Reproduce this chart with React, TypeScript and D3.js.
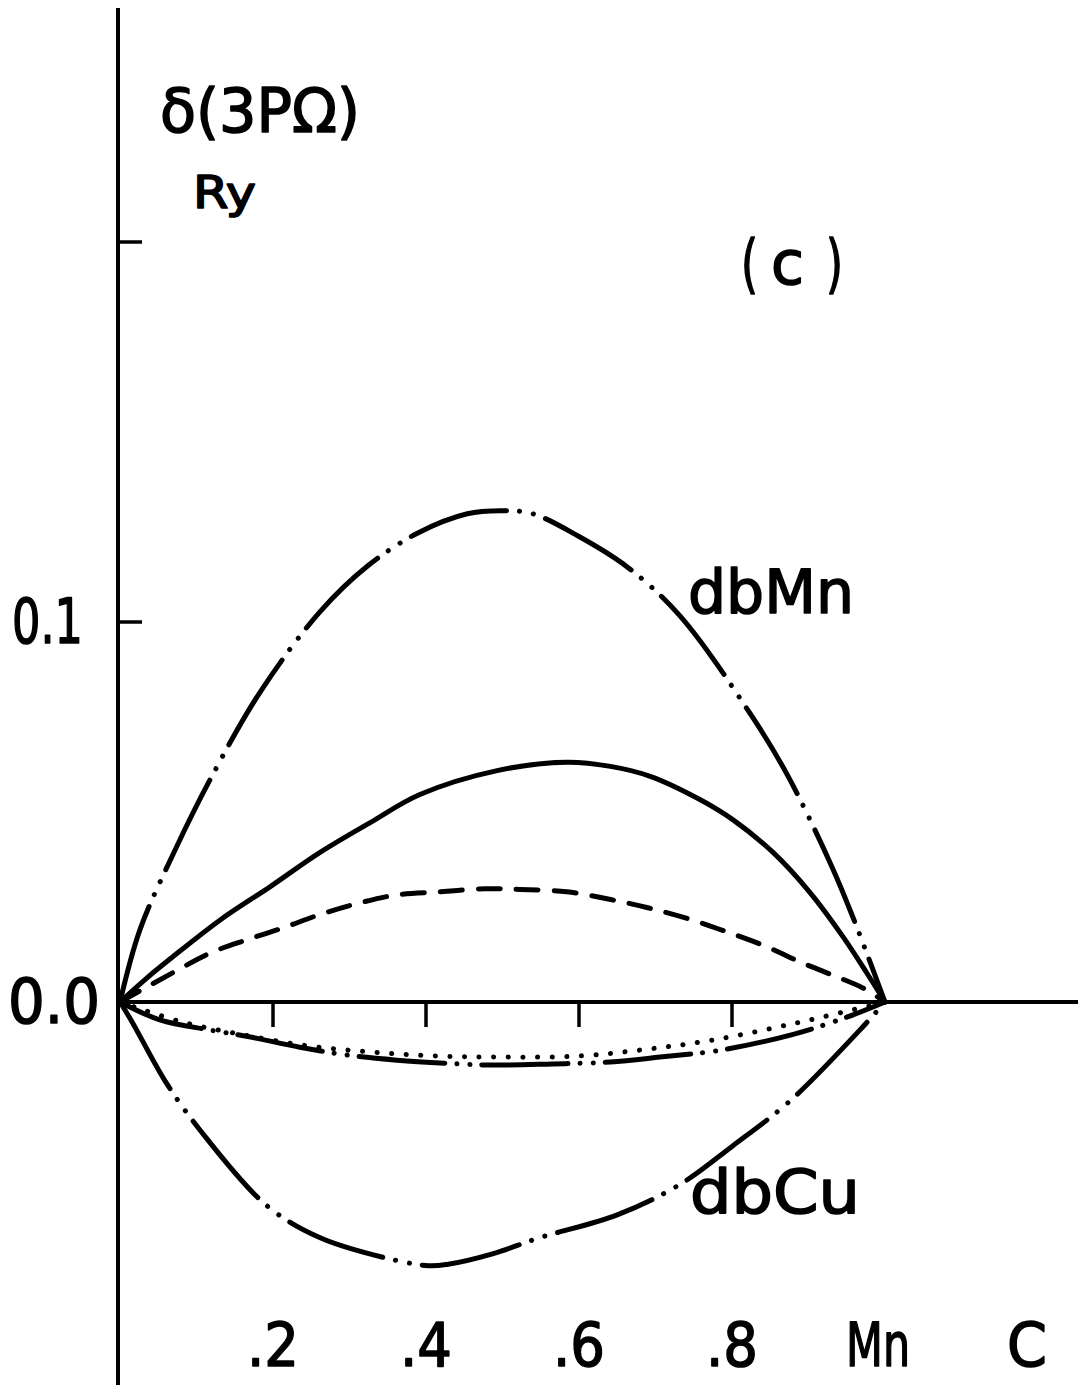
import React from "react";
import * as d3 from "d3";

// Composition c (Mn fraction) and δ(3PΩ) in Ry for each curve
const dbMnC = [0, 0.026, 0.072, 0.118, 0.183, 0.261, 0.324, 0.39, 0.454, 0.497, 0.539, 0.6, 0.663, 0.732, 0.826, 0.872, 0.931, 0.961, 1];
const dbMnV = [0, 0.019, 0.04, 0.0586, 0.0815, 0.1026, 0.1148, 0.1235, 0.1285, 0.1293, 0.1285, 0.1225, 0.1145, 0.1016, 0.0752, 0.0599, 0.0354, 0.0208, 0];

const solidC = [0, 0.035, 0.069, 0.131, 0.196, 0.261, 0.327, 0.392, 0.493, 0.584, 0.641, 0.693, 0.758, 0.801, 0.854, 0.902, 0.945, 0.976, 1];
const solidV = [0, 0.0063, 0.0119, 0.0216, 0.0303, 0.0393, 0.0472, 0.0546, 0.0609, 0.0631, 0.062, 0.0594, 0.0533, 0.048, 0.0393, 0.0288, 0.0172, 0.0077, 0];

const dashedC = [0, 0.069, 0.118, 0.166, 0.213, 0.261, 0.31, 0.362, 0.418, 0.477, 0.523, 0.584, 0.643, 0.69, 0.743, 0.797, 0.846, 0.886, 0.931, 0.971, 1];
const dashedV = [0, 0.0077, 0.0129, 0.0164, 0.0195, 0.023, 0.0259, 0.0282, 0.029, 0.0298, 0.0296, 0.029, 0.0269, 0.0248, 0.0219, 0.0182, 0.0145, 0.0108, 0.0071, 0.0037, 0];

const dottedC = [0, 0.08, 0.163, 0.248, 0.331, 0.412, 0.497, 0.601, 0.69, 0.775, 0.889, 1];
const dottedV = [0, -0.0052, -0.0087, -0.0116, -0.0132, -0.0142, -0.0145, -0.0142, -0.0124, -0.01, -0.0053, 0];

const dashDotC = [0, 0.052, 0.118, 0.165, 0.235, 0.298, 0.362, 0.425, 0.486, 0.565, 0.641, 0.706, 0.784, 0.88, 0.95, 1];
const dashDotV = [0, -0.0047, -0.0074, -0.009, -0.0119, -0.014, -0.0153, -0.0161, -0.0166, -0.0163, -0.0158, -0.0145, -0.0127, -0.0085, -0.004, 0];

const dbCuC = [0, 0.016, 0.059, 0.105, 0.192, 0.261, 0.33, 0.403, 0.429, 0.488, 0.549, 0.65, 0.732, 0.8, 0.876, 0.967, 1];
const dbCuV = [0, -0.0053, -0.0208, -0.0338, -0.0536, -0.062, -0.0665, -0.0694, -0.069, -0.0662, -0.062, -0.056, -0.048, -0.038, -0.026, -0.0074, 0];

const xTickValues = [0.2, 0.4, 0.6, 0.8];
const xTickLabels = [".2", ".4", ".6", ".8"];
const yTickValues = [0.1, 0.2];

const W = 1078;
const H = 1385;
const FONT = "'DejaVu Sans', 'Noto Sans', sans-serif";

const x = d3.scaleLinear().domain([0, 1]).range([120, 885]);
const y = d3.scaleLinear().domain([0, 0.2]).range([1002, 242]);

const line = d3
  .line<[number, number]>()
  .x((d) => x(d[0]))
  .y((d) => y(d[1]))
  .curve(d3.curveCatmullRom.alpha(0.5));

const zip = (cs: number[], vs: number[]) => cs.map((c, i) => [c, vs[i]] as [number, number]);

const curves = [
  { key: "dbMn", d: zip(dbMnC, dbMnV), dash: "100 13 0.1 14 0.1 13" },
  { key: "solid", d: zip(solidC, solidV), dash: undefined },
  { key: "dashed", d: zip(dashedC, dashedV), dash: "22 16" },
  { key: "dotted", d: zip(dottedC, dottedV), dash: "0.1 14.5" },
  { key: "dashDot", d: zip(dashDotC, dashDotV), dash: "86 12 0.1 13 0.1 12" },
  { key: "dbCu", d: zip(dbCuC, dbCuV), dash: "100 13 0.1 14 0.1 13" },
];

export default function App() {
  const axisX = 118;
  const y0 = y(0);
  return (
    <svg
      width={W}
      height={H}
      viewBox={`0 0 ${W} ${H}`}
      style={{ position: "absolute", left: 0, top: 0, background: "#fff" }}
    >
      <rect width={W} height={H} fill="#fff" />
      {/* axes */}
      <line x1={axisX} x2={axisX} y1={8} y2={H} stroke="#000" strokeWidth={4} />
      <line x1={axisX} x2={W} y1={y0} y2={y0} stroke="#000" strokeWidth={4} />
      {yTickValues.map((v) => (
        <line key={v} x1={axisX} x2={axisX + 24} y1={y(v)} y2={y(v)} stroke="#000" strokeWidth={3.5} />
      ))}
      {xTickValues.map((v) => (
        <line key={v} x1={x(v)} x2={x(v)} y1={y0} y2={y0 + 25} stroke="#000" strokeWidth={3.5} />
      ))}

      {/* curves */}
      {curves.map((c) => (
        <path
          key={c.key}
          d={line(c.d) || ""}
          fill="none"
          stroke="#000"
          strokeWidth={5}
          strokeLinecap="round"
          strokeLinejoin="round"
          strokeDasharray={c.dash}
        />
      ))}

      {/* text */}
      <g fontFamily={FONT} fill="#000" stroke="#000" strokeWidth={1.6} strokeLinejoin="round">
        <text x={12} y={643} fontSize={62} textLength={71} lengthAdjust="spacingAndGlyphs">0.1</text>
        <text x={8} y={1023} fontSize={62} textLength={92} lengthAdjust="spacingAndGlyphs">0.0</text>
        <text x={160} y={132} fontSize={60} textLength={200} lengthAdjust="spacingAndGlyphs">δ(3PΩ)</text>
        <text x={193} y={208} fontSize={44} textLength={63} lengthAdjust="spacingAndGlyphs">Ry</text>
        <text x={741} y={286} fontSize={64} textLength={17} lengthAdjust="spacingAndGlyphs">(</text>
        <text x={771} y={284} fontSize={60} textLength={33} lengthAdjust="spacingAndGlyphs">c</text>
        <text x={826} y={286} fontSize={64} textLength={17} lengthAdjust="spacingAndGlyphs">)</text>
        <text x={688} y={613} fontSize={60} textLength={166} lengthAdjust="spacingAndGlyphs">dbMn</text>
        <text x={690} y={1213} fontSize={60} textLength={170} lengthAdjust="spacingAndGlyphs">dbCu</text>
        {xTickValues.map((v, i) => (
          <text key={v} x={x(v)} y={1366} fontSize={60} textAnchor="middle" textLength={52} lengthAdjust="spacingAndGlyphs">
            {xTickLabels[i]}
          </text>
        ))}
        <text x={846} y={1366} fontSize={60} textLength={64} lengthAdjust="spacingAndGlyphs">Mn</text>
        <text x={1007} y={1366} fontSize={60} textLength={40} lengthAdjust="spacingAndGlyphs">C</text>
      </g>
    </svg>
  );
}
